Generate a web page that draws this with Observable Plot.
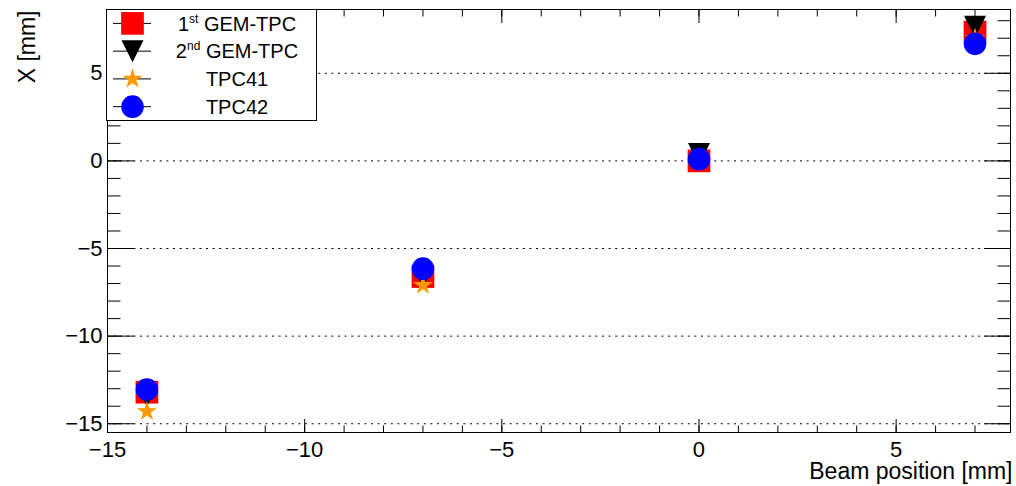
<!DOCTYPE html>
<html><head><meta charset="utf-8">
<script src="https://cdn.jsdelivr.net/npm/d3@7"></script>
<script src="https://cdn.jsdelivr.net/npm/@observablehq/plot@0.6"></script>
<style>
body{margin:0;background:#fff}
#chart{position:relative;width:1016px;height:486px}
svg{font-family:"Liberation Sans",Arial,Helvetica,sans-serif}
</style>
</head><body><div id="chart"></div>
<script>
// ---- data ----
const beamPos = [-14, -7, 0, 7];
const gem1 = [-13.2, -6.6, 0.0, 7.35];
const gem2 = [-13.4, -6.6, 0.4, 7.65];
const tpc41 = [-14.3, -7.1, 0.0, 7.0];
const tpc42 = [-13.05, -6.15, 0.1, 6.68];
const seriesNames = ["1st GEM-TPC", "2nd GEM-TPC", "TPC41", "TPC42"];
const seriesColors = ["#ff0000", "#000000", "#ff9900", "#0000ff"];
const majorX = [-15, -10, -5, 0, 5];
const minorX = [-15, -14, -13, -12, -11, -10, -9, -8, -7, -6, -5, -4, -3, -2, -1, 0, 1, 2, 3, 4, 5, 6, 7];
const majorY = [-15, -10, -5, 0, 5];
const minorY = [-15, -14, -13, -12, -11, -10, -9, -8, -7, -6, -5, -4, -3, -2, -1, 0, 1, 2, 3, 4, 5, 6, 7, 8];
const gridY = [5, 0, -5, -10, -15];
const xTitle = "Beam position [mm]";
const yTitle = "X [mm]";

const seriesValues = [gem1, gem2, tpc41, tpc42];
const rows = seriesValues.map((vals, s) => beamPos.map((x, i) => ({series: s, x, y: vals[i]})));

const triangleDown = {
  draw(ctx, size) {
    const r = Math.sqrt(size / Math.PI);
    ctx.moveTo(-r, -r); ctx.lineTo(r, -r); ctx.lineTo(0, r); ctx.closePath();
  }
};
const symbols = ["square", triangleDown, "star", "circle"];
const radii = [12.8, 11, 6.3, 11.3];

const fmt = d => d < 0 ? "\u2212" + Math.abs(d) : String(d);
const FONT = "Liberation Sans, Arial, Helvetica, sans-serif";

const chart = Plot.plot({
  width: 1016, height: 486,
  marginLeft: 107, marginRight: 6, marginTop: 9, marginBottom: 54,
  style: {fontFamily: FONT, background: "white", color: "black", overflow: "visible"},
  x: {domain: [-15, 7.9]},
  y: {domain: [-15.5, 8.64]},
  marks: [
    Plot.ruleY(gridY, {stroke: "black", strokeWidth: 1, strokeDasharray: "2,4.6"}),
    // tick labels
    Plot.axisX({anchor: "bottom", ticks: majorX, tickSize: 0, tickPadding: 9, tickFormat: fmt, fontSize: 22, label: null}),
    Plot.axisY({anchor: "left", ticks: majorY, tickSize: 0, tickPadding: 5, tickFormat: fmt, fontSize: 22, label: null}),
    // inward tick marks
    Plot.axisX({anchor: "bottom", ticks: majorX, tickSize: -13, tickFormat: () => "", label: null}),
    Plot.axisX({anchor: "bottom", ticks: minorX, tickSize: -6.5, tickFormat: () => "", label: null}),
    Plot.axisX({anchor: "top", ticks: majorX, tickSize: -13, tickFormat: () => "", label: null}),
    Plot.axisX({anchor: "top", ticks: minorX, tickSize: -6.5, tickFormat: () => "", label: null}),
    Plot.axisY({anchor: "left", ticks: majorY, tickSize: -27, tickFormat: () => "", label: null}),
    Plot.axisY({anchor: "left", ticks: minorY, tickSize: -13.5, tickFormat: () => "", label: null}),
    Plot.axisY({anchor: "right", ticks: majorY, tickSize: -27, tickFormat: () => "", label: null}),
    Plot.axisY({anchor: "right", ticks: minorY, tickSize: -13.5, tickFormat: () => "", label: null}),
    Plot.frame({stroke: "black", strokeWidth: 1}),
    // data
    ...rows.map((data, s) => Plot.dot(data, {x: "x", y: "y", symbol: () => symbols[s], r: radii[s], fill: seriesColors[s], stroke: "none"})),
    // titles
    Plot.text([xTitle], {frameAnchor: "bottom-right", text: d => d, textAnchor: "end", lineAnchor: "bottom", dy: 46, dx: 2, fontSize: 23}),
    Plot.text([yTitle], {frameAnchor: "top-left", text: d => d, textAnchor: "end", lineAnchor: "bottom", rotate: -90, dx: -73, dy: 1, fontSize: 23})
  ]
});
document.getElementById("chart").appendChild(chart);

// ---- legend (inside the frame, top-left) ----
const svg = d3.select(chart);
const lg = svg.append("g").attr("font-family", FONT);
const bx = 106.5, by = 9.5, bw = 210, bh = 111;
lg.append("rect").attr("x", bx).attr("y", by).attr("width", bw).attr("height", bh)
  .attr("fill", "white").attr("stroke", "black").attr("stroke-width", 1);
const legendSymbols = [d3.symbolSquare, triangleDown, d3.symbolStar, d3.symbolCircle];
seriesNames.forEach((name, i) => {
  const cy = by + 13.9 + i * 27.75;
  const g = lg.append("g");
  g.append("line").attr("x1", 113).attr("x2", 151).attr("y1", cy).attr("y2", cy).attr("stroke", "black").attr("stroke-width", 1);
  g.append("path").attr("transform", `translate(132.5,${cy})`)
    .attr("d", d3.symbol(legendSymbols[i], Math.PI * radii[i] * radii[i])())
    .attr("fill", seriesColors[i]);
  const t = g.append("text").attr("x", 237).attr("y", cy).attr("dy", "0.36em")
    .attr("text-anchor", "middle").attr("font-size", 20).attr("fill", "black");
  const m = name.match(/^(\d)(st|nd)( .*)$/);
  if (m) {
    t.append("tspan").text(m[1]);
    t.append("tspan").attr("font-size", 12).attr("dy", -8).text(m[2]);
    t.append("tspan").attr("dy", 8).text(m[3]);
  } else {
    t.text(name);
  }
});
</script>
</body></html>
